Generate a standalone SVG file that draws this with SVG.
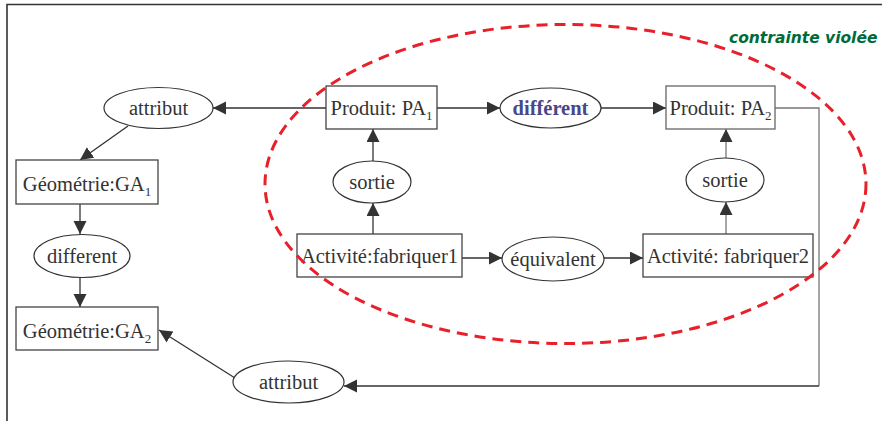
<svg xmlns="http://www.w3.org/2000/svg" width="882" height="421" viewBox="0 0 882 421">
<style>
.box{fill:#fff;stroke:#444;stroke-width:1.3}
.ell{fill:#fff;stroke:#333;stroke-width:1.2}
.t{font-family:"Liberation Serif","Times New Roman",serif;font-size:20.5px;fill:#333;text-anchor:middle}
.sub{font-size:13px}
.c{fill:none;stroke:#333;stroke-width:1.3}
.g{stroke:#777}
</style>
<defs>
<marker id="ah" markerUnits="userSpaceOnUse" markerWidth="14" markerHeight="14" refX="13" refY="6.5" orient="auto">
<path d="M0,0 L13,6.5 L0,13 z" fill="#333"/>
</marker>
</defs>
<rect width="882" height="421" fill="#fff"/>
<path d="M7,421 V4.5 H882" fill="none" stroke="#333" stroke-width="1.6"/>

<g id="connectors">
<line class="c" x1="326" y1="108" x2="213" y2="108" marker-end="url(#ah)"/>
<line class="c" x1="128" y1="126" x2="80" y2="160" marker-end="url(#ah)"/>
<line class="c" x1="80" y1="204" x2="80" y2="234" marker-end="url(#ah)"/>
<line class="c" x1="80" y1="277" x2="80" y2="307" marker-end="url(#ah)"/>
<line class="c" x1="235" y1="378" x2="159" y2="330" marker-end="url(#ah)"/>
<path class="c g" d="M775,108 H819 V386"/>
<line class="c" x1="819" y1="386" x2="344" y2="386" marker-end="url(#ah)"/>
<line class="c" x1="437" y1="108" x2="500" y2="108" marker-end="url(#ah)"/>
<line class="c" x1="601" y1="108" x2="666" y2="108" marker-end="url(#ah)"/>
<line class="c" x1="373" y1="161" x2="373" y2="129" marker-end="url(#ah)"/>
<line class="c" x1="373" y1="234" x2="373" y2="203" marker-end="url(#ah)"/>
<line class="c g" x1="726" y1="158" x2="726" y2="129" marker-end="url(#ah)"/>
<line class="c g" x1="726" y1="234" x2="726" y2="202" marker-end="url(#ah)"/>
<line class="c" x1="462" y1="258" x2="502" y2="258" marker-end="url(#ah)"/>
<line class="c" x1="604" y1="258" x2="643" y2="258" marker-end="url(#ah)"/>
</g>

<g id="attribut1"><ellipse class="ell" cx="158.5" cy="108" rx="54.5" ry="20.5"/><text class="t" x="158.5" y="115">attribut</text></g>
<g id="ga1"><rect class="box" x="16" y="160" width="142" height="44"/><text class="t" x="87" y="191">Géométrie:GA<tspan class="sub" dy="5">1</tspan></text></g>
<g id="different1"><ellipse class="ell" cx="82" cy="256" rx="48" ry="21.5"/><text class="t" x="82" y="263">different</text></g>
<g id="ga2"><rect class="box" x="16" y="307" width="142" height="43"/><text class="t" x="87" y="338">Géométrie:GA<tspan class="sub" dy="5">2</tspan></text></g>
<g id="attribut2"><ellipse class="ell" cx="288.5" cy="382" rx="55.5" ry="21"/><text class="t" x="288.5" y="389">attribut</text></g>
<g id="pa1"><rect class="box" x="326" y="86" width="111" height="43"/><text class="t" x="381.5" y="115">Produit: PA<tspan class="sub" dy="5">1</tspan></text></g>
<g id="different2"><ellipse class="ell" cx="550.5" cy="108" rx="50.5" ry="20"/><text class="t" x="550.5" y="115" font-weight="bold" style="fill:#47478a">différent</text></g>
<g id="pa2"><rect class="box" x="666" y="86" width="109" height="43" style="stroke:#666"/><text class="t" x="720.5" y="115">Produit: PA<tspan class="sub" dy="5">2</tspan></text></g>
<g id="sortie1"><ellipse class="ell" cx="372" cy="182" rx="39" ry="21"/><text class="t" x="372" y="189">sortie</text></g>
<g id="sortie2"><ellipse class="ell" cx="725" cy="180" rx="39" ry="22"/><text class="t" x="725" y="187">sortie</text></g>
<g id="fab1"><rect class="box" x="297" y="234" width="165" height="43"/><text class="t" x="379.5" y="263">Activité:fabriquer1</text></g>
<g id="equivalent"><ellipse class="ell" cx="553" cy="259" rx="51" ry="22"/><text class="t" x="553" y="266">équivalent</text></g>
<g id="fab2"><rect class="box" x="643" y="234" width="170" height="43"/><text class="t" x="728" y="263">Activité: fabriquer2</text></g>

<g id="constraint">
<ellipse cx="565.5" cy="184" rx="300.5" ry="159.5" fill="none" stroke="#e8202a" stroke-width="3" stroke-dasharray="11,7"/>
<text x="729" y="43" font-family="'DejaVu Sans',Verdana,sans-serif" font-size="15.5" font-weight="bold" font-style="italic" fill="#006b3a">contrainte violée</text>
</g>
</svg>
